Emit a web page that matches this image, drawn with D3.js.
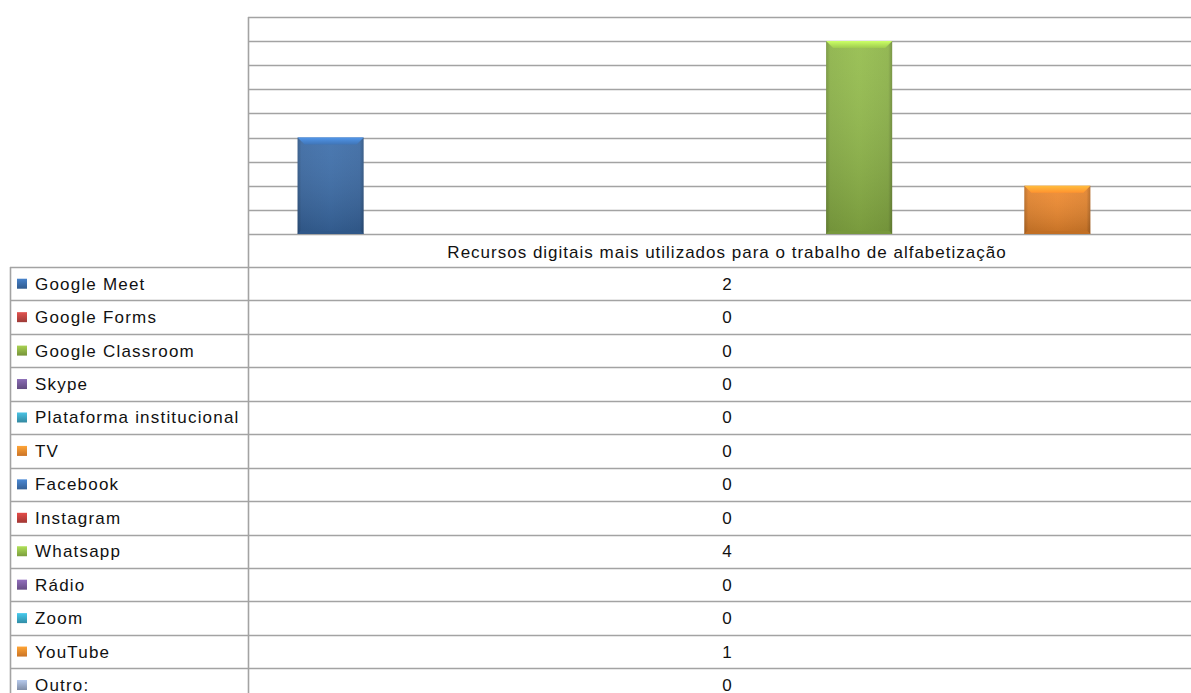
<!DOCTYPE html>
<html>
<head>
<meta charset="utf-8">
<script src="https://cdn.jsdelivr.net/npm/d3@7"></script>
<style>
  html, body { margin: 0; padding: 0; background: #fff; overflow: hidden; }
  svg { display: block; }
  text { font-family: "Liberation Sans", Arial, sans-serif; fill: #111; }
</style>
</head>
<body>
<svg id="chart" width="1191" height="693"></svg>
<script>
// ---- data ----
const category = "Recursos digitais mais utilizados para o trabalho de alfabetização";
const series = ["Google Meet", "Google Forms", "Google Classroom", "Skype", "Plataforma institucional",
  "TV", "Facebook", "Instagram", "Whatsapp", "Rádio", "Zoom", "YouTube", "Outro:"];
const values = [2, 0, 0, 0, 0, 0, 0, 0, 4, 0, 0, 1, 0];
const colors = ["#3B6DAA", "#BC4542", "#8DB045", "#745A98", "#3DA3BF", "#F28A2E",
  "#3F73B2", "#C0403D", "#93BC4A", "#7A5C9E", "#3AA9C6", "#F0892C", "#98A9C6"];
const yTicks = [0, 0.5, 1, 1.5, 2, 2.5, 3, 3.5, 4, 4.5];

// ---- layout ----
const plotLeft = 248, plotRight = 1206, plotTop = 17, plotBottom = 234;
const tableLeft = 10, headerBottom = 267, rowH = 33.44;
const fontSize = 17, spacing = 1.2;

const svg = d3.select("#chart");
const defs = svg.append("defs");

const y = d3.scaleLinear().domain([0, 4.5]).range([plotBottom, plotTop]);
const x = d3.scaleBand().domain(series).range([plotLeft, plotRight]).paddingInner(0).paddingOuter(0.75);
const rowY = d3.scaleBand().domain(series).range([headerBottom, headerBottom + rowH * series.length]);

const gridColor = "#a3a3a3";

// gradients per series
series.forEach((s, i) => {
  const c = d3.color(colors[i]);
  const g = defs.append("linearGradient").attr("id", "bar" + i)
    .attr("x1", 0).attr("y1", 0).attr("x2", 1).attr("y2", 0);
  g.append("stop").attr("offset", "0%").attr("stop-color", c.darker(0.7));
  g.append("stop").attr("offset", "6%").attr("stop-color", c.darker(0.15));
  g.append("stop").attr("offset", "50%").attr("stop-color", c);
  g.append("stop").attr("offset", "94%").attr("stop-color", c.darker(0.15));
  g.append("stop").attr("offset", "100%").attr("stop-color", c.darker(0.8));
  const gv = defs.append("linearGradient").attr("id", "shade" + i)
    .attr("x1", 0).attr("y1", 0).attr("x2", 0).attr("y2", 1);
  gv.append("stop").attr("offset", "0%").attr("stop-color", "#fff").attr("stop-opacity", 0.08);
  gv.append("stop").attr("offset", "100%").attr("stop-color", "#000").attr("stop-opacity", 0.18);
  const gk = defs.append("linearGradient").attr("id", "key" + i)
    .attr("x1", 0).attr("y1", 0).attr("x2", 0).attr("y2", 1);
  gk.append("stop").attr("offset", "0%").attr("stop-color", c.brighter(0.5));
  gk.append("stop").attr("offset", "100%").attr("stop-color", c.darker(0.5));
  const gb = defs.append("linearGradient").attr("id", "bevel" + i)
    .attr("x1", 0).attr("y1", 0).attr("x2", 0).attr("y2", 1);
  gb.append("stop").attr("offset", "0%").attr("stop-color", c.brighter(0.9));
  gb.append("stop").attr("offset", "100%").attr("stop-color", c.brighter(0.2));
});

// gridlines
svg.append("g").selectAll("line").data(yTicks).join("line")
  .attr("x1", plotLeft).attr("x2", 1191)
  .attr("y1", d => Math.round(y(d)) + 0.5).attr("y2", d => Math.round(y(d)) + 0.5)
  .attr("stroke", gridColor).attr("stroke-width", 1.6);

// bars
const bars = svg.append("g").selectAll("g").data(series.map((s, i) => ({s, v: values[i], i})).filter(d => d.v > 0)).join("g");
bars.append("rect")
  .attr("x", d => x(d.s)).attr("width", x.bandwidth())
  .attr("y", d => y(d.v)).attr("height", d => y(0) - y(d.v))
  .attr("fill", d => `url(#bar${d.i})`);
bars.append("rect")
  .attr("x", d => x(d.s)).attr("width", x.bandwidth())
  .attr("y", d => y(d.v)).attr("height", d => y(0) - y(d.v))
  .attr("fill", d => `url(#shade${d.i})`);
// top bevel
bars.append("path")
  .attr("d", d => {
    const x0 = x(d.s), x1 = x0 + x.bandwidth(), t = y(d.v), b = 7;
    return `M${x0},${t}L${x1},${t}L${x1 - b},${t + b}L${x0 + b},${t + b}Z`;
  })
  .attr("fill", d => `url(#bevel${d.i})`);
// bottom edge darker
bars.append("path")
  .attr("d", d => {
    const x0 = x(d.s), x1 = x0 + x.bandwidth(), bt = y(0), b = 3;
    return `M${x0},${bt}L${x1},${bt}L${x1 - b},${bt - b}L${x0 + b},${bt - b}Z`;
  })
  .attr("fill", d => d3.color(colors[d.i]).darker(0.6));

// table lines
const tbl = svg.append("g").attr("stroke", gridColor).attr("stroke-width", 1.6);
tbl.append("line").attr("x1", plotLeft + 0.5).attr("x2", plotLeft + 0.5).attr("y1", plotTop).attr("y2", 693);
tbl.append("line").attr("x1", tableLeft + 0.5).attr("x2", tableLeft + 0.5).attr("y1", headerBottom).attr("y2", 693);
const rowLines = [headerBottom].concat(series.map(s => rowY(s) + rowH));
tbl.selectAll("line.row").data(rowLines).join("line").attr("class", "row")
  .attr("x1", tableLeft).attr("x2", 1191)
  .attr("y1", d => Math.round(d) + 0.5).attr("y2", d => Math.round(d) + 0.5);

// header text
const colCenter = (plotLeft + plotRight) / 2;
svg.append("text").attr("x", colCenter).attr("y", 258)
  .attr("text-anchor", "middle").attr("font-size", fontSize).attr("letter-spacing", 1.0)
  .text(category);

// rows
const rows = svg.append("g").selectAll("g").data(series).join("g")
  .attr("transform", s => `translate(0,${rowY(s) + rowH / 2})`);
rows.append("rect").attr("x", 17).attr("y", -5).attr("width", 10).attr("height", 10)
  .attr("fill", (s, i) => `url(#key${i})`);
rows.append("text").attr("x", 35).attr("y", 6).attr("font-size", fontSize)
  .attr("letter-spacing", spacing).text(s => s);
rows.append("text").attr("x", colCenter).attr("y", 6).attr("font-size", fontSize)
  .attr("text-anchor", "middle").text((s, i) => values[i]);
</script>
</body>
</html>
